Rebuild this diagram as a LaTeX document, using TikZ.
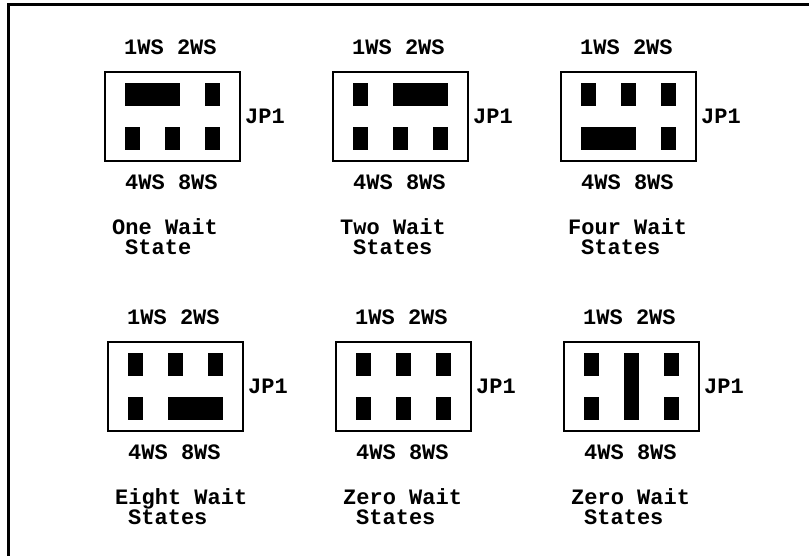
\documentclass[tikz,border=0pt]{standalone}
\usepackage{fontspec}
\setmonofont{Liberation Mono}
\tikzset{
  lbl/.style={font=\ttfamily\bfseries\fontsize{22}{22}\selectfont, inner sep=0pt, anchor=base west},
  jbox/.style={draw=black, line width=1.6pt, minimum width=135pt, minimum height=89pt, inner sep=0pt, anchor=north west},
  frame/.style={line width=2.2pt},
}
% #1 L, #2 T, #3 id, #4 title line 1, #5 title line 2, #6 pins
\newcommand\jpanel[6]{%
  \begin{scope}[shift={(#1,#2)}]
    \node[jbox] (#3box) at (0,0) {};
    #6
    \node[lbl] (#3top) at (20,-16.7) {1WS 2WS};
    \node[lbl] (#3jp) at (141,52.3) {JP1};
    \node[lbl] (#3bot) at (21,118.3) {4WS 8WS};
    \node[lbl] (#3ta) at (8,163.3) {#4};
    \node[lbl] (#3tb) at (21,183.3) {#5};
  \end{scope}}
\newcommand\pinA[2]{\fill[black] (#1,#2) rectangle ++(15,23);}
\begin{document}
\begin{tikzpicture}[x=1pt,y=-1pt]
  \useasboundingbox (0,0) rectangle (809,556);
  \coordinate (fb) at (8.5,556);
  \coordinate (fc) at (8.5,4.5);
  \coordinate (fr) at (809,4.5);
  \draw[frame] (fb) -- (fc) -- (fr);

  % One wait state: top 1-2 jumpered
  \jpanel{104}{71}{p1}{One Wait}{State}{%
    \fill[black] (21,12) rectangle (76,35); \pinA{101}{12}
    \pinA{21}{56} \pinA{61}{56} \pinA{101}{56}}
  % Two wait states: top 2-3 jumpered
  \jpanel{332}{71}{p2}{Two Wait}{States}{%
    \pinA{21}{12} \fill[black] (61,12) rectangle (116,35);
    \pinA{21}{56} \pinA{61}{56} \pinA{101}{56}}
  % Four wait states: bottom 1-2 jumpered
  \jpanel{560}{71}{p3}{Four Wait}{States}{%
    \pinA{21}{12} \pinA{61}{12} \pinA{101}{12}
    \fill[black] (21,56) rectangle (76,79); \pinA{101}{56}}
  % Eight wait states: bottom 2-3 jumpered
  \jpanel{107}{341}{p4}{Eight Wait}{States}{%
    \pinA{21}{12} \pinA{61}{12} \pinA{101}{12}
    \pinA{21}{56} \fill[black] (61,56) rectangle (116,79);}
  % Zero wait states: no jumper
  \jpanel{335}{341}{p5}{Zero Wait}{States}{%
    \pinA{21}{12} \pinA{61}{12} \pinA{101}{12}
    \pinA{21}{56} \pinA{61}{56} \pinA{101}{56}}
  % Zero wait states: middle vertical jumper
  \jpanel{563}{341}{p6}{Zero Wait}{States}{%
    \pinA{21}{12} \fill[black] (61,12) rectangle (76,79); \pinA{101}{12}
    \pinA{21}{56} \pinA{101}{56}}
\end{tikzpicture}
\end{document}
